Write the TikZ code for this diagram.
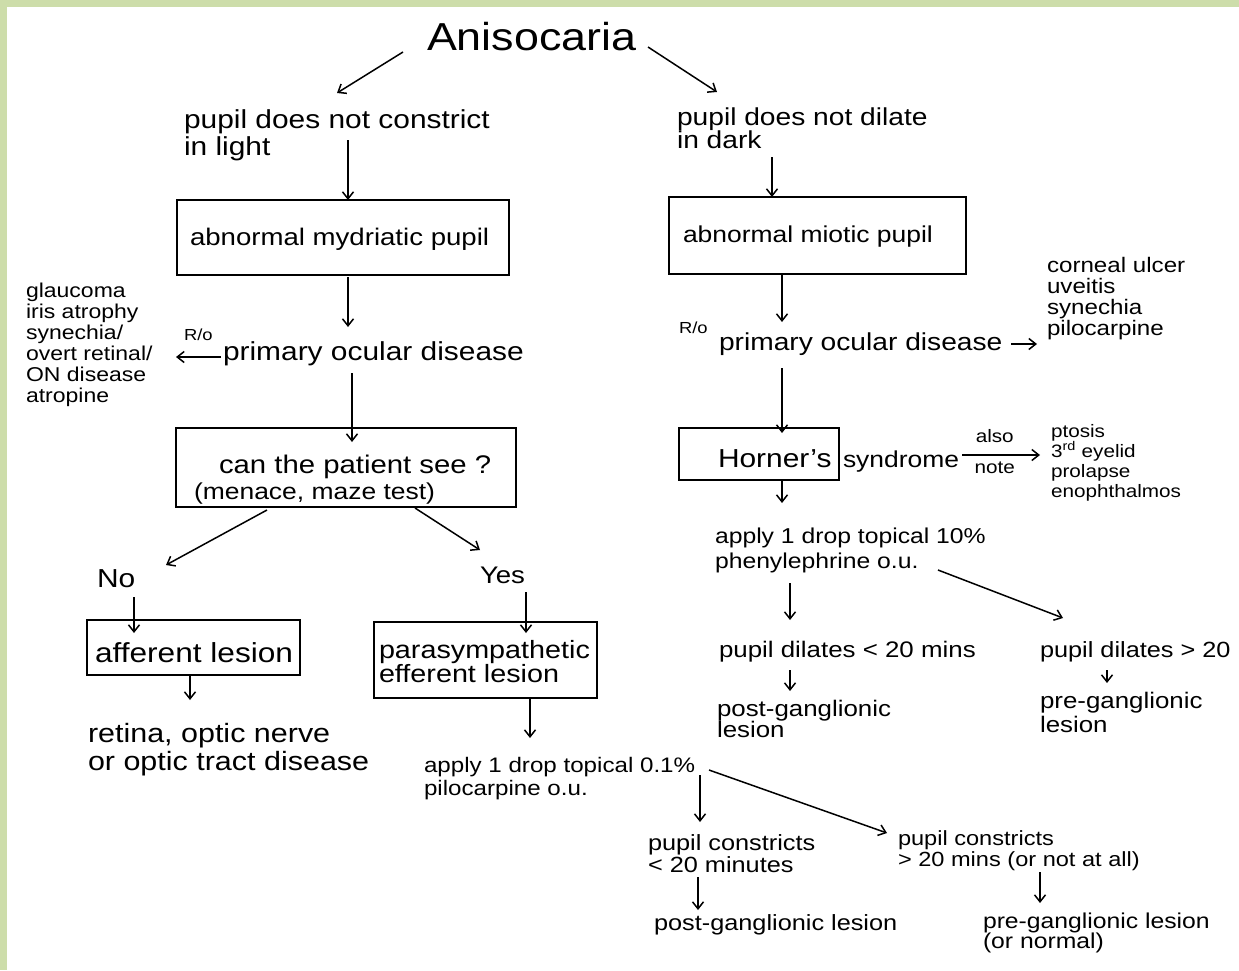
\documentclass[tikz,border=0pt]{standalone}
\usepackage{fontspec}
\setmainfont[FakeStretch=1.15]{Liberation Sans}
\usetikzlibrary{arrows.meta}
\definecolor{framegreen}{RGB}{205,221,170}
\newcommand\fs[1]{\fontsize{#1}{#1}\selectfont}
\newcommand\ml[2]{\vtop{\baselineskip=#1pt\lineskiplimit=-100pt\lineskip=0pt #2}}
\tikzset{
  txt/.style={inner sep=0pt, outer sep=0pt, anchor=base west, font=\fs{#1}},
  box/.style={draw, line width=2pt, inner sep=0pt, outer sep=0pt},
  arr/.style={line width=1.5pt, -{Straight Barb[length=7pt,width=11pt]}},
  lbl/.style={inner sep=0pt, font=\fs{18}}
}
\begin{document}
\begin{tikzpicture}[x=1pt,y=-1pt]
\fill[framegreen] (0,0) rectangle (1239,970);
\fill[white] (7,7) rectangle (1239,970);
\useasboundingbox (0,0) rectangle (1239,970);

% title and first level
\node[txt=39] (T) at (427,50) {Anisocaria};
\node[txt=26] (pnc) at (184,128) {\ml{27}{\hbox{pupil does not constrict}\hbox{in light}}};
\node[txt=24.5] (pnd) at (677,125) {\ml{23}{\hbox{pupil does not dilate}\hbox{in dark}}};

% left branch
\node[box, minimum width=332pt, minimum height=75pt] (B1) at (343,237.5) {};
\node[txt=24] (B1t) at (190,245) {abnormal mydriatic pupil};
\node[txt=16] (ro1) at (184,340) {R/o};
\node[txt=26] (pod1) at (223,360) {primary ocular disease};
\node[txt=20] (gl) at (26,297) {\ml{21}{\hbox{glaucoma}\hbox{iris atrophy}\hbox{synechia/}\hbox{overt retinal/}\hbox{ON disease}\hbox{atropine}}};
\node[box, minimum width=340pt, minimum height=79pt] (B3) at (346,467.5) {};
\node[txt=25.5] (B3a) at (219,473) {can the patient see ?};
\node[txt=23] (B3b) at (194,499) {(menace, maze test)};
\node[txt=26] (No) at (97,587) {No};
\node[txt=24] (Yes) at (480,583) {Yes};
\node[box, minimum width=213pt, minimum height=55pt] (B4) at (193.5,647.5) {};
\node[txt=27.5] (B4t) at (95,662) {afferent lesion};
\node[box, minimum width=223pt, minimum height=76pt] (B5) at (485.5,660) {};
\node[txt=25] (B5t) at (379,658) {\ml{24.5}{\hbox{parasympathetic}\hbox{efferent lesion}}};
\node[txt=26.5] (ret) at (88,742) {\ml{28}{\hbox{retina, optic nerve}\hbox{or optic tract disease}}};
\node[txt=21] (pil) at (424,772) {\ml{23}{\hbox{apply 1 drop topical 0.1\%}\hbox{pilocarpine o.u.}}};
\node[txt=22] (pcl) at (648,850) {\ml{22}{\hbox{pupil constricts}\hbox{< 20 minutes}}};
\node[txt=20.5] (pcr) at (898,845) {\ml{21.5}{\hbox{pupil constricts}\hbox{> 20 mins (or not at all)}}};
\node[txt=22] (postg2) at (654,930) {post-ganglionic lesion};
\node[txt=21.5] (preg2) at (983,928) {\ml{20.5}{\hbox{pre-ganglionic lesion}\hbox{(or normal)}}};

% right branch
\node[box, minimum width=297pt, minimum height=77pt] (B2) at (817.5,235.5) {};
\node[txt=23] (B2t) at (683,242) {abnormal miotic pupil};
\node[txt=16] (ro2) at (679,333) {R/o};
\node[txt=24.5] (pod2) at (719,350) {primary ocular disease};
\node[txt=21] (cu) at (1047,272) {\ml{21}{\hbox{corneal ulcer}\hbox{uveitis}\hbox{synechia}\hbox{pilocarpine}}};
\node[box, minimum width=160pt, minimum height=52pt] (B6) at (759,454) {};
\node[txt=26] (B6t) at (718,467) {Horner's};
\node[txt=23] (synd) at (843,467) {syndrome};
\node[txt=18] (pt) at (1051,437) {\ml{20}{\hbox{ptosis}\hbox{3\textsuperscript{rd} eyelid}\hbox{prolapse}\hbox{enophthalmos}}};
\node[txt=21.5] (ph) at (715,543) {\ml{25}{\hbox{apply 1 drop topical 10\%}\hbox{phenylephrine o.u.}}};
\node[txt=22.5] (pdl) at (719,657) {pupil dilates < 20 mins};
\node[txt=22.5] (postg1) at (717,716) {\ml{21}{\hbox{post-ganglionic}\hbox{lesion}}};
\node[txt=22] (pdg) at (1040,657) {pupil dilates > 20};
\node[txt=22.5] (preg1) at (1040,708) {\ml{24}{\hbox{pre-ganglionic}\hbox{lesion}}};

% connectors
\draw[arr] ([shift={(-24,2)}]T.base west) -- ([shift={(153,-35)}]pnc.base west);
\draw[arr] ([shift={(221,-3)}]T.base west) -- ([shift={(40,-33)}]pnd.base west);
\draw[arr] ([shift={(164,12)}]pnc.base west) -- ([shift={(5,0)}]B1.north);
\draw[arr] ([shift={(95,32)}]pnd.base west) -- ([shift={(-45.5,0)}]B2.north);
\draw[arr] ([shift={(5,2)}]B1.south) -- ([shift={(125,-33)}]pod1.base west);
\draw[arr] ([shift={(-2,-3)}]pod1.base west) -- ([shift={(150,60)}]gl.base west);
\draw[arr] ([shift={(129,13)}]pod1.base west) -- ([shift={(6,14)}]B3.north);
\draw[arr] ([shift={(-79,3)}]B3.south) -- ([shift={(69,-22)}]No.base west);
\draw[arr] ([shift={(69,1)}]B3.south) -- ([shift={(0,-33)}]Yes.base west);
\draw[arr] ([shift={(37,10)}]No.base west) -- ([shift={(-59.5,13)}]B4.north);
\draw[arr] ([shift={(-3.5,0)}]B4.south) -- ([shift={(102,-42)}]ret.base west);
\draw[arr] ([shift={(46,9)}]Yes.base west) -- ([shift={(40.5,11)}]B5.north);
\draw[arr] ([shift={(44.5,0)}]B5.south) -- ([shift={(106,-34)}]pil.base west);
\draw[arr] ([shift={(276,3)}]pil.base west) -- ([shift={(52,-28)}]pcl.base west);
\draw[arr] ([shift={(285,-2)}]pil.base west) -- ([shift={(-11,-12)}]pcr.base west);
\draw[arr] ([shift={(50,27)}]pcl.base west) -- ([shift={(44,-20)}]postg2.base west);
\draw[arr] ([shift={(142,27)}]pcr.base west) -- ([shift={(57,-25)}]preg2.base west);
\draw[arr] ([shift={(-35.5,1)}]B2.south) -- ([shift={(63,-28)}]pod2.base west);
\draw[arr] ([shift={(292,-6)}]pod2.base west) -- ([shift={(-10,72)}]cu.base west);
\draw[arr] ([shift={(63,18)}]pod2.base west) -- ([shift={(23,5)}]B6.north);
\draw[arr] ([shift={(119,-12)}]synd.base west) --
  node[lbl, pos=0.42, above=12pt] (also) {also}
  node[lbl, pos=0.42, below=6pt] (note) {note}
  ([shift={(-11,18)}]pt.base west);
\draw[arr] ([shift={(23,0)}]B6.south) -- ([shift={(67,-40)}]ph.base west);
\draw[arr] ([shift={(75,40)}]ph.base west) -- ([shift={(71,-37)}]pdl.base west);
\draw[arr] ([shift={(223,27)}]ph.base west) -- ([shift={(23,-39)}]pdg.base west);
\draw[arr] ([shift={(71,13)}]pdl.base west) -- ([shift={(73,-25)}]postg1.base west);
\draw[arr] ([shift={(67,13)}]pdg.base west) -- ([shift={(67,-25)}]preg1.base west);
\end{tikzpicture}
\end{document}
